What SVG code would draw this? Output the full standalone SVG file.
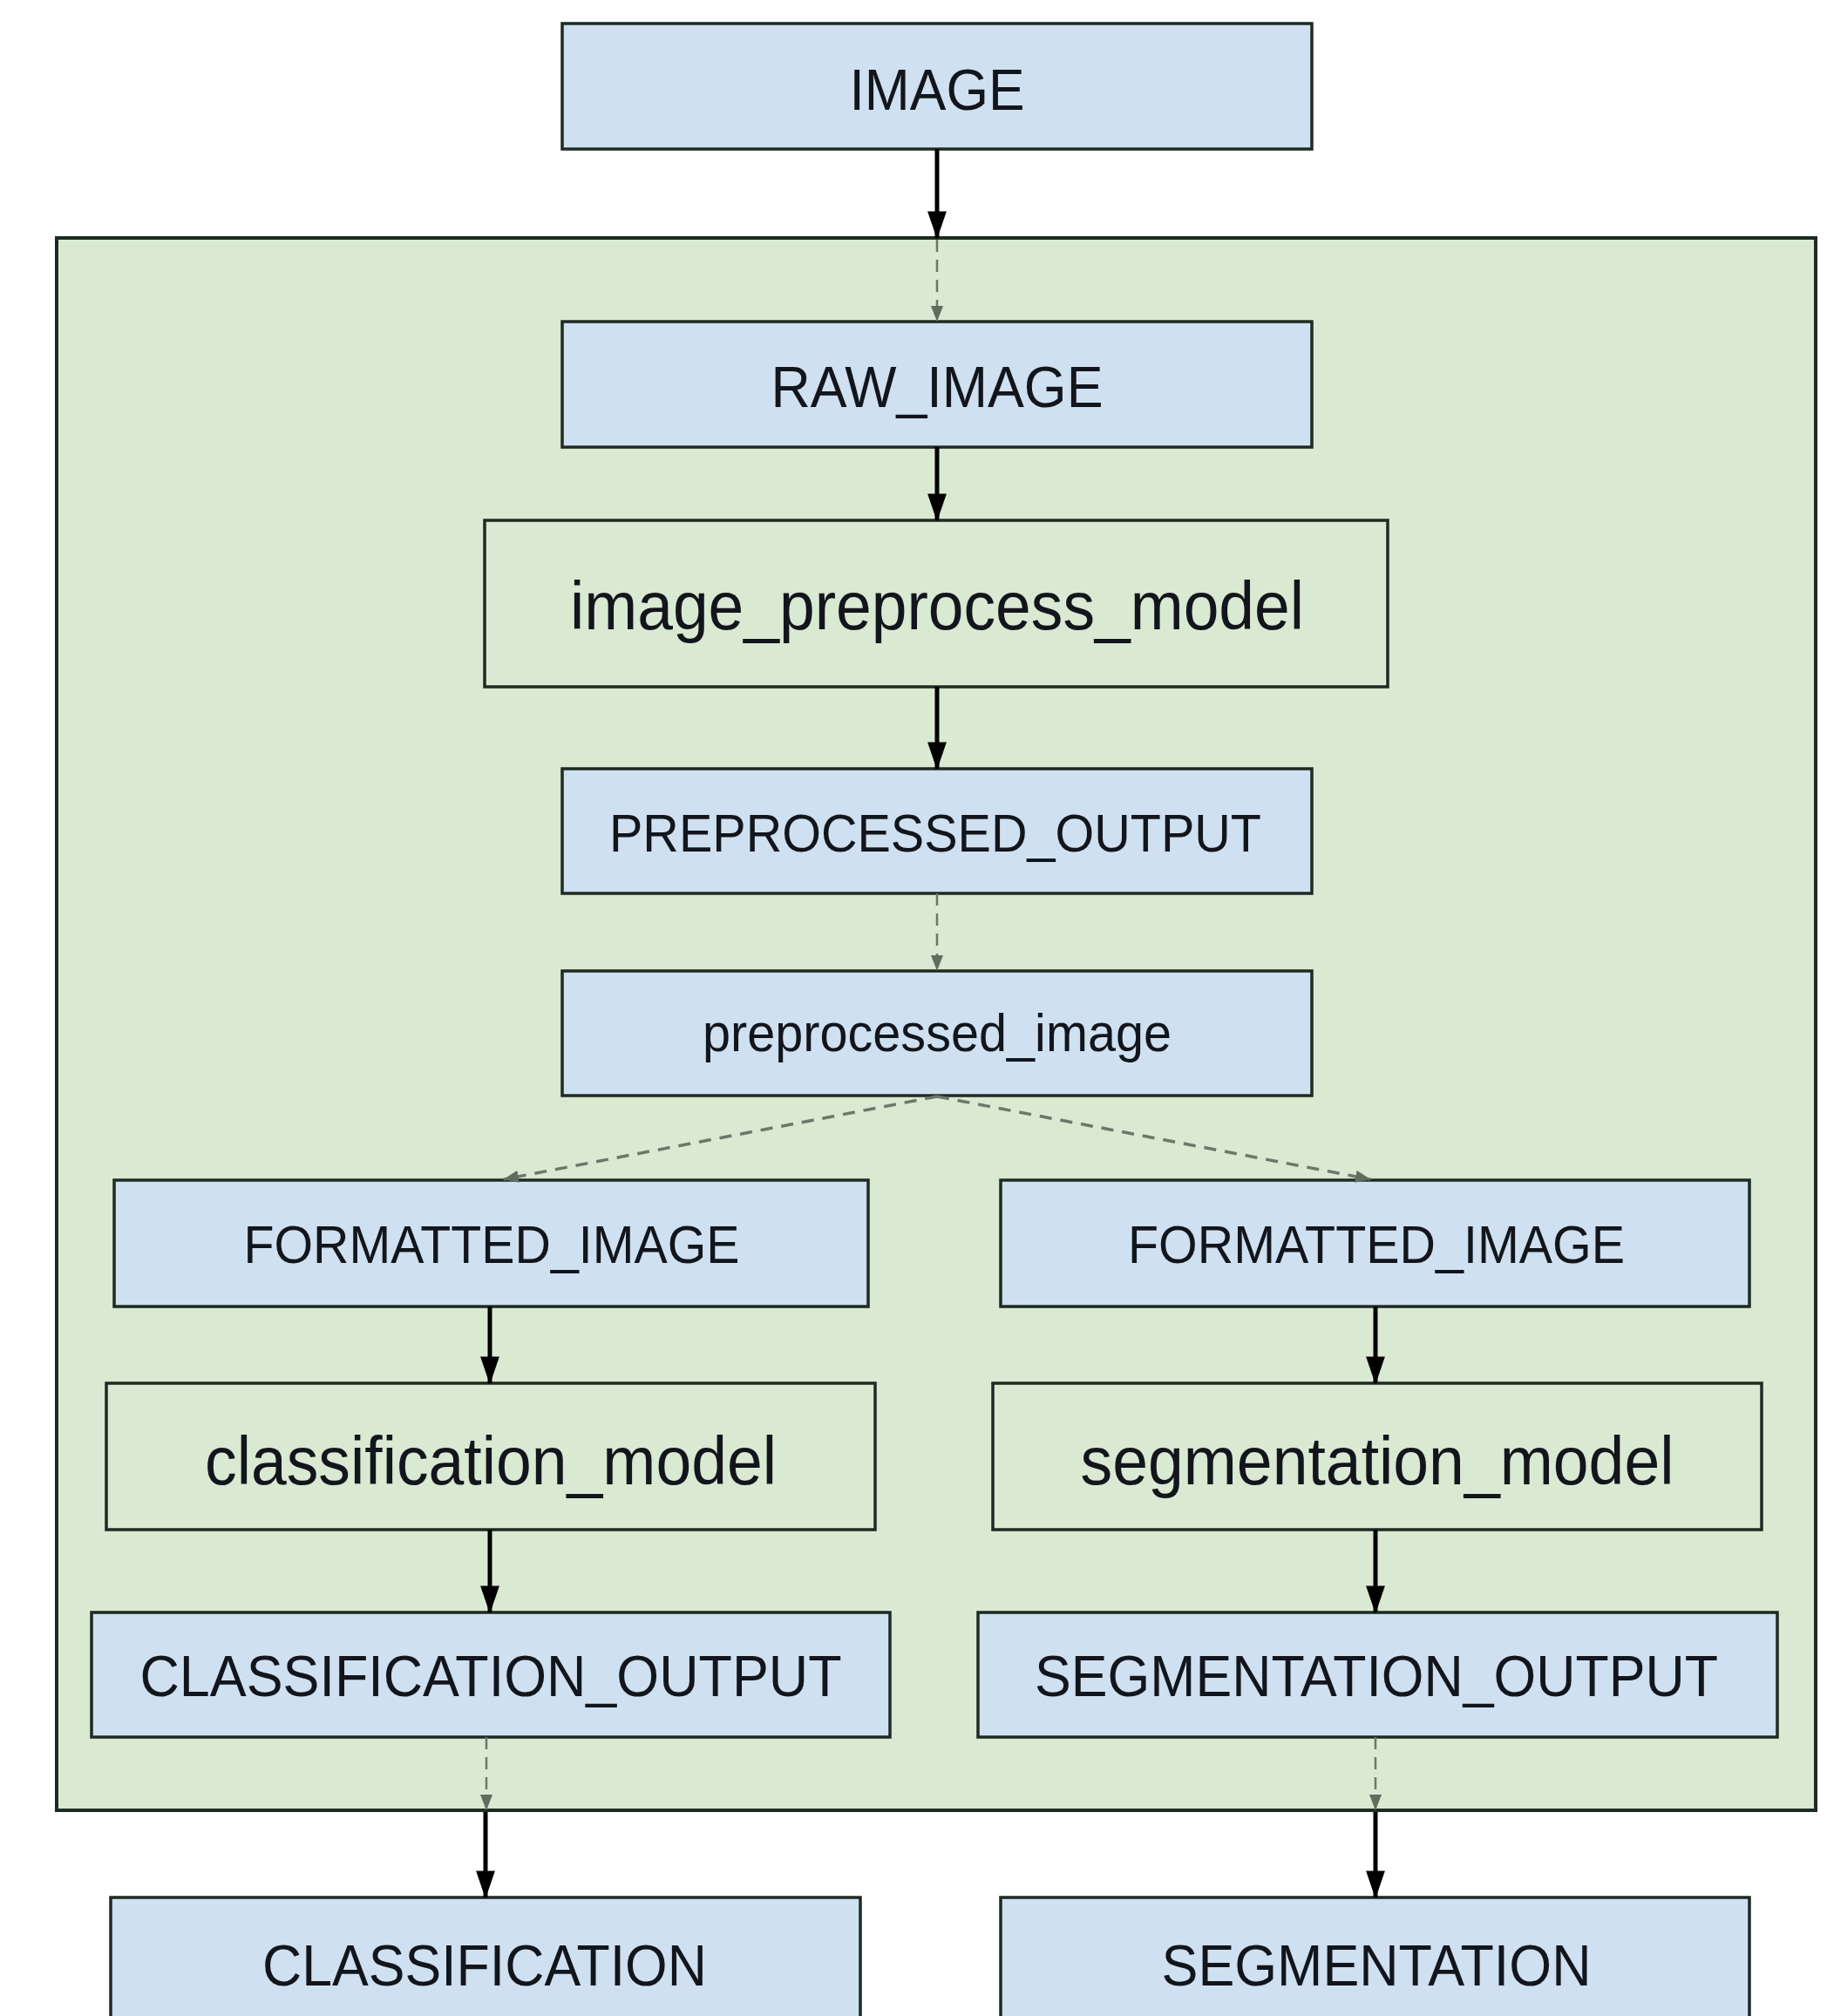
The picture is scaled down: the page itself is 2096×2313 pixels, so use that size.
<svg xmlns="http://www.w3.org/2000/svg" width="2096" height="2313" viewBox="0 0 2096 2313">
  <style>
    .data { fill: #cfe0f1; stroke: #1e2a22; stroke-width: 3.5; }
    .model { fill: #d9e9d2; stroke: #1e2a22; stroke-width: 3.5; }
    .pipeline { fill: #d9e9d2; stroke: #1e2a22; stroke-width: 4; }
    text { font-family: "Liberation Sans", Arial, sans-serif; fill: #12161c; text-anchor: middle; }
    .caps { font-size: 67px; }
    .caps-sm { font-size: 61px; }
    .lower { font-size: 78px; }
    .solid { stroke: #000; stroke-width: 5; fill: none; }
    .dashed { stroke: #6b786a; stroke-width: 2.5; fill: none; stroke-dasharray: 14 9; }
    .dashed-split { stroke: #6b786a; stroke-width: 3.5; fill: none; stroke-dasharray: 14 10; }
  </style>
  <defs>
    <marker id="head" markerUnits="userSpaceOnUse" markerWidth="32" markerHeight="44" refX="42" refY="15" orient="auto" viewBox="0 0 44 30">
      <path d="M0,0 L44,15 L0,30 Z" fill="#000"/>
    </marker>
    <marker id="head-small" markerUnits="userSpaceOnUse" markerWidth="18" markerHeight="14" refX="17" refY="7" orient="auto" viewBox="0 0 18 14">
      <path d="M0,0 L18,7 L0,14 Z" fill="#5f6d5e"/>
    </marker>
  </defs>

  <rect width="2096" height="2313" fill="#ffffff"/>

  <!-- pipeline container -->
  <g id="pipeline">
    <rect class="pipeline" x="65" y="273" width="2018" height="1804"/>
  </g>

  <g id="image">
    <rect class="data" x="645" y="27" width="860" height="144"/>
    <text class="caps" x="1075" y="126" textLength="201" lengthAdjust="spacingAndGlyphs">IMAGE</text>
  </g>

  <g id="raw_image">
    <rect class="data" x="645" y="369" width="860" height="144"/>
    <text class="caps" x="1075" y="467" textLength="381" lengthAdjust="spacingAndGlyphs">RAW_IMAGE</text>
  </g>

  <g id="image_preprocess_model">
    <rect class="model" x="556" y="597" width="1036" height="191"/>
    <text class="lower" x="1075" y="722" textLength="842" lengthAdjust="spacingAndGlyphs">image_preprocess_model</text>
  </g>

  <g id="preprocessed_output">
    <rect class="data" x="645" y="882" width="860" height="143"/>
    <text class="caps-sm" x="1073" y="977" textLength="748" lengthAdjust="spacingAndGlyphs">PREPROCESSED_OUTPUT</text>
  </g>

  <g id="preprocessed_image">
    <rect class="data" x="645" y="1114" width="860" height="143"/>
    <text class="caps-sm" x="1075" y="1206" textLength="538" lengthAdjust="spacingAndGlyphs">preprocessed_image</text>
  </g>

  <g id="formatted_image_cls">
    <rect class="data" x="131" y="1354" width="865" height="145"/>
    <text class="caps-sm" x="564" y="1449" textLength="569" lengthAdjust="spacingAndGlyphs">FORMATTED_IMAGE</text>
  </g>

  <g id="formatted_image_seg">
    <rect class="data" x="1148" y="1354" width="859" height="145"/>
    <text class="caps-sm" x="1579" y="1449" textLength="570" lengthAdjust="spacingAndGlyphs">FORMATTED_IMAGE</text>
  </g>

  <g id="classification_model">
    <rect class="model" x="122" y="1587" width="882" height="168"/>
    <text class="lower" x="563" y="1703" textLength="656" lengthAdjust="spacingAndGlyphs">classification_model</text>
  </g>

  <g id="segmentation_model">
    <rect class="model" x="1139" y="1587" width="882" height="168"/>
    <text class="lower" x="1580" y="1703" textLength="681" lengthAdjust="spacingAndGlyphs">segmentation_model</text>
  </g>

  <g id="classification_output">
    <rect class="data" x="105" y="1850" width="916" height="143"/>
    <text class="caps" x="563" y="1946" textLength="805" lengthAdjust="spacingAndGlyphs">CLASSIFICATION_OUTPUT</text>
  </g>

  <g id="segmentation_output">
    <rect class="data" x="1122" y="1850" width="917" height="143"/>
    <text class="caps" x="1579" y="1946" textLength="784" lengthAdjust="spacingAndGlyphs">SEGMENTATION_OUTPUT</text>
  </g>

  <g id="classification">
    <rect class="data" x="127" y="2177" width="860" height="160"/>
    <text class="caps" x="556" y="2278" textLength="510" lengthAdjust="spacingAndGlyphs">CLASSIFICATION</text>
  </g>

  <g id="segmentation">
    <rect class="data" x="1148" y="2177" width="859" height="160"/>
    <text class="caps" x="1579" y="2278" textLength="493" lengthAdjust="spacingAndGlyphs">SEGMENTATION</text>
  </g>

  <!-- connectors -->
  <g id="connectors">
    <line class="solid" x1="1075" y1="171" x2="1075" y2="273" marker-end="url(#head)"/>
    <line class="dashed" x1="1075" y1="275" x2="1075" y2="368" marker-end="url(#head-small)"/>
    <line class="solid" x1="1075" y1="513" x2="1075" y2="597" marker-end="url(#head)"/>
    <line class="solid" x1="1075" y1="788" x2="1075" y2="882" marker-end="url(#head)"/>
    <line class="dashed" x1="1075" y1="1025" x2="1075" y2="1113" marker-end="url(#head-small)"/>
    <line class="dashed-split" x1="1075" y1="1258" x2="578" y2="1353" marker-end="url(#head-small)"/>
    <line class="dashed-split" x1="1075" y1="1258" x2="1572" y2="1353" marker-end="url(#head-small)"/>

    <line class="solid" x1="562" y1="1499" x2="562" y2="1587" marker-end="url(#head)"/>
    <line class="solid" x1="562" y1="1755" x2="562" y2="1850" marker-end="url(#head)"/>
    <line class="dashed" x1="558" y1="1993" x2="558" y2="2076" marker-end="url(#head-small)"/>
    <line class="solid" x1="557" y1="2079" x2="557" y2="2177" marker-end="url(#head)"/>

    <line class="solid" x1="1578" y1="1499" x2="1578" y2="1587" marker-end="url(#head)"/>
    <line class="solid" x1="1578" y1="1755" x2="1578" y2="1850" marker-end="url(#head)"/>
    <line class="dashed" x1="1578" y1="1993" x2="1578" y2="2076" marker-end="url(#head-small)"/>
    <line class="solid" x1="1578" y1="2079" x2="1578" y2="2177" marker-end="url(#head)"/>
  </g>
</svg>
